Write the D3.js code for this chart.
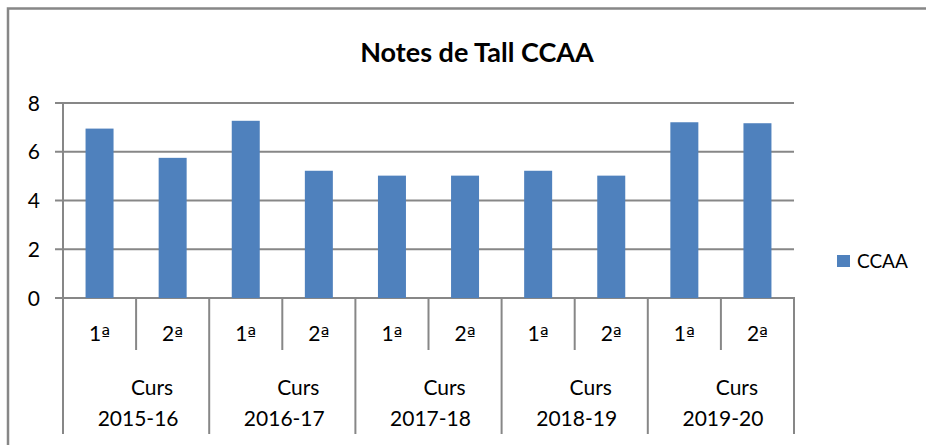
<!DOCTYPE html>
<html>
<head>
<meta charset="utf-8">
<script src="https://cdn.jsdelivr.net/npm/d3@7"></script>
<style>
  html, body { margin: 0; padding: 0; background: #fff; }
  svg { display: block; }
  text { font-family: Lato, "Open Sans", sans-serif; fill: #000; }
  tspan.ord { font-family: "DejaVu Sans", sans-serif; }
</style>
</head>
<body>
<svg id="chart" width="926" height="445"></svg>
<script>
const title = "Notes de Tall CCAA";
const seriesName = "CCAA";
const courses = ["2015-16", "2016-17", "2017-18", "2018-19", "2019-20"];
const coursePrefix = "Curs";
const terms = ["1ª", "2ª"];
const values = [6.95, 5.75, 7.27, 5.22, 5.02, 5.02, 5.22, 5.02, 7.21, 7.17];
const yTicks = [0, 2, 4, 6, 8];

const svg = d3.select("#chart");
const gray = "#878787";
const barColor = "#4F81BD";

// outer frame
svg.append("path")
  .attr("d", "M8,445 L8,8.5 L926,8.5")
  .attr("fill", "none").attr("stroke", gray).attr("stroke-width", 2.5);

const cats = [];
courses.forEach(c => terms.forEach(t => cats.push(c + "|" + t)));
const data = cats.map((k, i) => ({ key: k, course: k.split("|")[0], term: k.split("|")[1], value: values[i] }));

const x = d3.scaleBand().domain(cats).range([63, 794]).padding(0);
const y = d3.scaleLinear().domain([0, 8]).range([298, 103]);
const barW = x.bandwidth() * 0.383;

// gridlines
svg.append("g").selectAll("line").data(yTicks).join("line")
  .attr("x1", 55).attr("x2", 794)
  .attr("y1", d => y(d)).attr("y2", d => y(d))
  .attr("stroke", gray).attr("stroke-width", 2);

// y axis line
svg.append("line").attr("x1", 63).attr("x2", 63).attr("y1", y(8)).attr("y2", y(0))
  .attr("stroke", gray).attr("stroke-width", 2);

// y labels
svg.append("g").selectAll("text").data(yTicks).join("text")
  .attr("x", 40).attr("y", d => y(d)).attr("dy", "0.36em")
  .attr("text-anchor", "end").attr("font-size", 21)
  .text(d => d);

// bars
svg.append("g").selectAll("rect").data(data).join("rect")
  .attr("x", d => x(d.key) + (x.bandwidth() - barW) / 2)
  .attr("width", barW)
  .attr("y", d => y(d.value))
  .attr("height", d => y(0) - y(d.value))
  .attr("fill", barColor);

// x axis ticks
const bounds = d3.range(cats.length + 1).map(i => ({ i, xp: i < cats.length ? x(cats[i]) : x.range()[1] }));
svg.append("g").selectAll("line").data(bounds).join("line")
  .attr("x1", d => d.xp).attr("x2", d => d.xp)
  .attr("y1", 297).attr("y2", d => d.i % 2 === 0 ? 434 : 350)
  .attr("stroke", gray).attr("stroke-width", 2);

// term labels
const tl = svg.append("g").selectAll("text").data(data).join("text")
  .attr("x", d => x(d.key) + x.bandwidth() / 2)
  .attr("y", 333).attr("dy", "0.36em")
  .attr("text-anchor", "middle").attr("font-size", 21);
tl.append("tspan").text(d => d.term.slice(0, -1));
tl.append("tspan").attr("class", "ord").attr("font-size", 19).text(d => d.term.slice(-1));

// course labels
const courseCenter = c => x(c + "|" + terms[0]) + x.bandwidth();
const cg = svg.append("g").selectAll("g").data(courses).join("g");
cg.append("text")
  .attr("x", d => courseCenter(d) + 16).attr("y", 387).attr("dy", "0.36em")
  .attr("text-anchor", "middle").attr("font-size", 21)
  .text(coursePrefix);
cg.append("text")
  .attr("x", d => courseCenter(d) + 2).attr("y", 418).attr("dy", "0.36em")
  .attr("text-anchor", "middle").attr("font-size", 21)
  .text(d => d);

// title
svg.append("text")
  .attr("x", 477).attr("y", 52).attr("dy", "0.36em")
  .attr("text-anchor", "middle").attr("font-size", 27).attr("font-weight", "bold")
  .text(title);

// legend
svg.append("rect").attr("x", 837).attr("y", 255).attr("width", 13).attr("height", 12).attr("fill", barColor);
svg.append("text").attr("x", 857).attr("y", 261).attr("dy", "0.36em")
  .attr("font-size", 19).text(seriesName);
</script>
</body>
</html>
